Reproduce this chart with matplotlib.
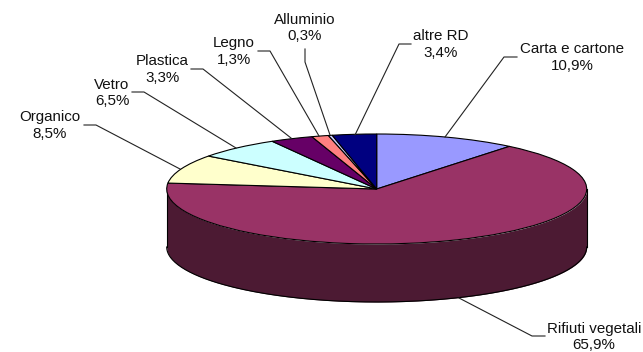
import numpy as np
import matplotlib
matplotlib.use("Agg")
import matplotlib.pyplot as plt

# order follows the pie, clockwise from 12 o'clock
categories = ["Carta e cartone", "Rifiuti vegetali", "Organico", "Vetro",
              "Plastica", "Legno", "Alluminio", "altre RD"]
shares = [10.9, 65.9, 8.5, 6.5, 3.3, 1.3, 0.3, 3.4]
colors = ["#9999FF", "#993366", "#FFFFCC", "#CCFFFF",
          "#660066", "#FF8080", "#CCCCFF", "#000080"]
side_colors = ["#4D4D80", "#4C1A33", "#808066", "#668080",
               "#330033", "#804040", "#666680", "#000040"]

# pixel layout of the reference
W, H = 643, 352
cx, cy, rx, ry, depth = 376.7, 189, 210, 55, 58
label_pos = [(572, 57.5), (594, 337), (50, 125.5), (112, 93),
             (162, 69.5), (234, 51.5), (305, 28), (441, 44.5)]
leaders = [
    [(517, 57), (504, 57), (445, 137)],
    [(545, 336), (532, 336), (459, 298)],
    [(84, 125), (96, 125), (180, 169)],
    [(132, 92), (144, 92), (236, 148)],
    [(191, 69), (203, 69), (291, 138)],
    [(258, 51), (270, 51), (319, 136)],
    [(305, 49), (305, 62), (330, 135)],
    [(411, 44), (399, 44), (355, 135)],
]

plt.rcParams["font.family"] = ["Liberation Sans", "DejaVu Sans"]
fig = plt.figure(figsize=(W / 100, H / 100), dpi=100, facecolor="white")

# pie axes: one unit is rx pixels wide and ry pixels tall, so the circle is squashed
ax = fig.add_axes([0, 0, 1, 1])
ax.pie(shares, colors=colors, startangle=90, counterclock=False, radius=1,
       wedgeprops=dict(edgecolor="black", linewidth=0.8, zorder=3))
ax.set_aspect("auto")
ax.set_xlim(-cx / rx, (W - cx) / rx)
ax.set_ylim((cy - H) / ry, cy / ry)
ax.axis("off")

# rim: only the front half (90 to 270 deg clockwise from the top) can be seen
edges = np.cumsum([0] + shares) * 3.6
for i in range(len(shares)):
    a0 = max(edges[i], 90)
    a1 = min(edges[i + 1], 270)
    if a1 <= a0:
        continue
    t = np.radians(np.linspace(a0, a1, 200))
    x = np.sin(t)
    y = np.cos(t)
    d = depth / ry
    ax.fill_between(x, y - d, y, color=side_colors[i], linewidth=0, zorder=1)
    ax.plot(x, y - d, color="black", lw=0.8, zorder=2)
ax.plot([1, 1], [0, -depth / ry], color="black", lw=0.8, zorder=2)
ax.plot([-1, -1], [0, -depth / ry], color="black", lw=0.8, zorder=2)

# overlay in pixels for labels and leader lines
ov = fig.add_axes([0, 0, 1, 1])
ov.set_xlim(0, W)
ov.set_ylim(H, 0)
ov.axis("off")
ov.patch.set_alpha(0)
for name, share, (lx, ly), pts in zip(categories, shares, label_pos, leaders):
    ov.text(lx, ly, f"{name}\n{share:.1f}%".replace(".", ","), ha="center", va="center",
            fontsize=10.9, color="#111111", linespacing=1.2)
    xs, ys = zip(*pts)
    ov.plot(xs, ys, color="#222222", lw=0.8)

fig.savefig("out.png", dpi=100)
